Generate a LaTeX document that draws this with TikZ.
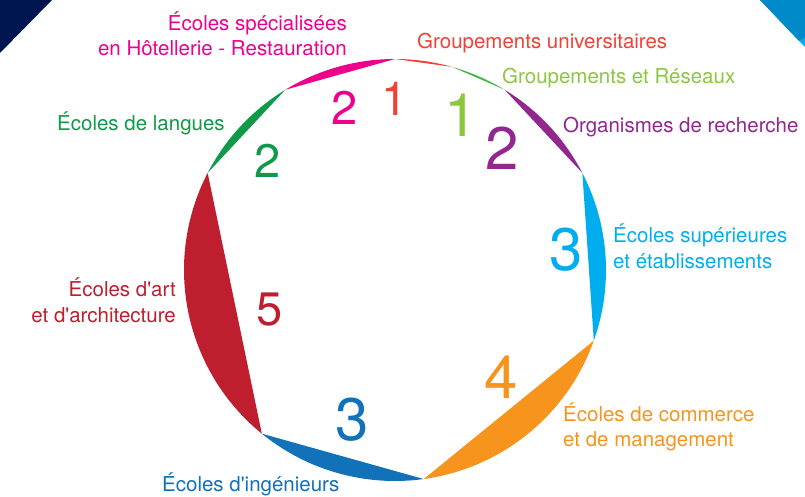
\documentclass[tikz,border=0pt]{standalone}
\usepackage{fontspec}
\setmainfont{TeX Gyre Heros}
\definecolor{rose}{HTML}{EC008C}
\definecolor{rouge}{HTML}{EF4136}
\definecolor{vertclair}{HTML}{8DC63F}
\definecolor{vertreseau}{HTML}{45B649}
\definecolor{violet}{HTML}{92278F}
\definecolor{cyanclair}{HTML}{00AEEF}
\definecolor{orangec}{HTML}{F7941D}
\definecolor{bleu}{HTML}{1172BA}
\definecolor{bordeaux}{HTML}{BE1E2D}
\definecolor{vert}{HTML}{0E9A48}
\definecolor{marine}{HTML}{001650}
\definecolor{azur}{HTML}{008AC9}
\tikzset{
	etiq/.style={font=\fontsize{20.5}{25.5}\selectfont, inner sep=0pt},
	chiffre/.style={font=\fontsize{60}{60}\selectfont, inner sep=0pt},
	petitchiffre/.style={font=\fontsize{47}{47}\selectfont, inner sep=0pt}
}
\begin{document}
\begin{tikzpicture}[x=1pt,y=1pt]
	\useasboundingbox (-395,-226) rectangle (410,270);
	
	% coins
	\fill[marine] (-395,270) -- (-343,270) -- (-395,217) -- cycle;
	\fill[cyanclair] (365,270) -- (410,270) -- (410,223) -- cycle;
	\fill[azur] (365,270) -- (410,270) -- (410,233) -- (404,229) -- cycle;
	
	% segments (1 = 360/23 deg)
	\fill[rouge] (90:211) arc[start angle=90, end angle=74.348, radius=211] -- cycle;
	\fill[vertreseau] (74.348:211) arc[start angle=74.348, end angle=58.696, radius=211] -- cycle;
	\fill[violet] (58.696:211) arc[start angle=58.696, end angle=27.391, radius=211] -- cycle;
	\fill[cyanclair] (27.391:211) arc[start angle=27.391, end angle=-19.565, radius=211] -- cycle;
	\fill[orangec] (-19.565:211) arc[start angle=-19.565, end angle=-82.174, radius=211] -- cycle;
	\fill[bleu] (-82.174:211) arc[start angle=-82.174, end angle=-129.130, radius=211] -- cycle;
	\fill[bordeaux] (-129.130:211) arc[start angle=-129.130, end angle=-207.391, radius=211] -- cycle;
	\fill[vert] (152.609:211) arc[start angle=152.609, end angle=121.304, radius=211] -- cycle;
	\fill[rose] (121.304:211) arc[start angle=121.304, end angle=90, radius=211] -- cycle;
	
	\node[petitchiffre, rose] (nrose) at (-50,162) {2};
	\node[petitchiffre, rouge] (nrouge) at (0,171) {1};
	\node[chiffre, vertclair] (nreseau) at (66,155) {1};
	\node[chiffre, violet] (nviolet) at (107,122) {2};
	\node[chiffre, cyanclair] (ncyan) at (171,20) {3};
	\node[chiffre, orangec] (norange) at (106,-107) {4};
	\node[chiffre, bleu] (nbleu) at (-43,-150) {3};
	\node[petitchiffre, bordeaux] (nart) at (-125.5,-40) {5};
	\node[petitchiffre, vert] (nlangues) at (-127.5,109) {2};
	
	% base = baseline of the last line
	\node[etiq, rose, align=right, anchor=base east] (hotel) at (-48,214.5) {Écoles spécialisées\\en Hôtellerie - Restauration};
	\node[etiq, rouge, anchor=base west] (univ) at (22,221.7) {Groupements universitaires};
	\node[etiq, vertclair, anchor=base west] (reseau) at (107,186.7) {Groupements et Réseaux};
	\node[etiq, violet, anchor=base west] (recherche) at (168,137.3) {Organismes de recherche};
	\node[etiq, cyanclair, align=left, anchor=base west] (sup) at (218,1.7) {Écoles supérieures\\et établissements};
	\node[etiq, orangec, align=left, anchor=base west] (commerce) at (168,-176.7) {Écoles de commerce\\et de management};
	\node[etiq, bleu, anchor=base west] (inge) at (-233,-221.7) {Écoles d\textquotesingle ingénieurs};
	\node[etiq, bordeaux, align=right, anchor=base east] (art) at (-219,-52) {Écoles d\textquotesingle art\\et d\textquotesingle architecture};
	\node[etiq, vert, anchor=base west] (langues) at (-338,139.3) {Écoles de langues};
\end{tikzpicture}
\end{document}
